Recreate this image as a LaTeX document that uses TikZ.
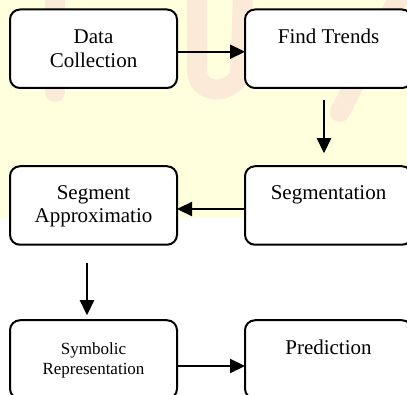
\documentclass[tikz,border=0pt]{standalone}
\usepackage{fontspec}
\setmainfont{Liberation Serif}
\usetikzlibrary{arrows.meta}
\definecolor{bgyellow}{RGB}{255,255,221}
\definecolor{wmpink}{RGB}{250,210,210}
\tikzset{
  stepbox/.style={draw=black, line width=2pt, fill=white, rounded corners=10pt,
    minimum width=167pt, minimum height=78.5pt, inner sep=0pt, outer sep=0pt},
  lbl/.style={anchor=base, inner sep=0pt, font=\fontsize{21}{24}\selectfont},
  lblsmall/.style={anchor=base, inner sep=0pt, font=\fontsize{17}{20}\selectfont},
  arr/.style={line width=2.2pt, -{Triangle[length=15pt,width=14pt]}},
  wm/.style={wmpink, line width=20pt, opacity=0.45, line cap=round}
}
\begin{document}
\begin{tikzpicture}[x=1pt,y=1pt]
\useasboundingbox (0,0) rectangle (407,-395);
\clip (0,0) rectangle (407,-395);
% background
\fill[white] (0,0) rectangle (407,-395);
\fill[bgyellow] (0,0) rectangle (407,-218);
% faint watermark strokes
\draw[wm] (55,5) -- (55,-92);
\draw[wm] (197,5) -- (197,-70) .. controls (197,-95) and (230,-95) .. (240,-75) -- (243,5);
\draw[wm] (400,5) -- (340,-112);
% boxes
\node[stepbox] (b1) at (93.5,-48.75) {};
\node[stepbox] (b2) at (328.5,-48.75) {};
\node[stepbox] (b3) at (328.5,-205.5) {};
\node[stepbox] (b4) at (93.5,-205.5) {};
\node[stepbox] (b5) at (93.5,-359.5) {};
\node[stepbox] (b6) at (328.5,-359.5) {};
% labels
\node[lbl] (t1a) at ([yshift=-34pt]b1.north) {Data};
\node[lbl] (t1b) at ([yshift=-58pt]b1.north) {Collection};
\node[lbl] (t2) at ([yshift=-34pt]b2.north) {Find Trends};
\node[lbl] (t3) at ([yshift=-33pt]b3.north) {Segmentation};
\node[lbl] (t4a) at ([yshift=-33pt]b4.north) {Segment};
\node[lbl] (t4b) at ([yshift=-56pt]b4.north) {Approximatio};
\node[lblsmall] (t5a) at ([yshift=-34pt]b5.north) {Symbolic};
\node[lblsmall] (t5b) at ([yshift=-54pt]b5.north) {Representation};
\node[lbl] (t6) at ([yshift=-34pt]b6.north) {Prediction};
% connectors
\draw[arr] ([yshift=-3pt]b1.east) -- ([yshift=-3pt]b2.west);
\draw[arr] ([xshift=-4.5pt,yshift=-12pt]b2.south) -- ([xshift=-4.5pt,yshift=13pt]b3.north);
\draw[arr] ([yshift=-3.5pt]b3.west) -- ([yshift=-3.5pt]b4.east);
\draw[arr] ([xshift=-6.5pt,yshift=-18pt]b4.south) -- ([xshift=-6.5pt,yshift=5pt]b5.north);
\draw[arr] ([yshift=-6.5pt]b5.east) -- ([yshift=-6.5pt]b6.west);
\end{tikzpicture}
\end{document}
